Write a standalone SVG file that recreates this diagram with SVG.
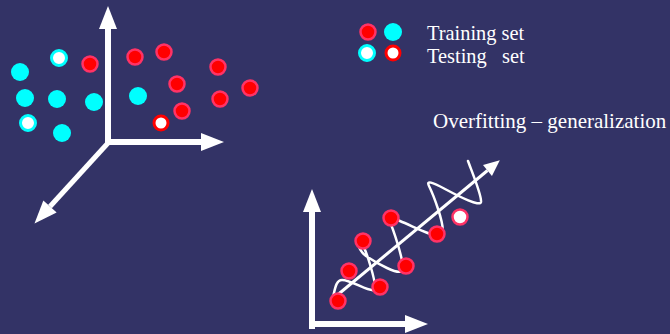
<svg xmlns="http://www.w3.org/2000/svg" width="670" height="334" viewBox="0 0 670 334">
<style>
.bg{fill:#333366}
.ax{stroke:#ffffff;stroke-width:6;fill:none}
.ax2{stroke:#ffffff;stroke-width:5;fill:none}
.fit{stroke:#ffffff;stroke-width:3;fill:none}
.wave{stroke:#ffffff;stroke-width:2.5;fill:none;stroke-linecap:round;stroke-linejoin:round}
.red{fill:#ff0000;stroke:#ff3366;stroke-width:2.5}
.cyan{fill:#00ffff}
.cyanT{fill:#ffffff;stroke:#00ffff;stroke-width:3}
.redT{fill:#ffffff;stroke:#ff0000;stroke-width:3}
.lbl{font-family:"Liberation Serif","Times New Roman",serif;font-size:20.4px;fill:#ffffff}
</style>
<defs>
<marker id="head" markerUnits="userSpaceOnUse" markerWidth="24" markerHeight="18" refX="0" refY="9" orient="auto" overflow="visible">
<path d="M0,0 L23,9 L0,18 Z" fill="#ffffff"/>
</marker>
<marker id="headS" markerUnits="userSpaceOnUse" markerWidth="16" markerHeight="14" refX="0" refY="7" orient="auto" overflow="visible">
<path d="M0,0 L16,7 L0,14 Z" fill="#ffffff"/>
</marker>
</defs>
<rect class="bg" x="0" y="0" width="670" height="334"/>

<g id="connectors">
<g id="axes-3d">
<line class="ax" x1="108" y1="145" x2="108" y2="29" marker-end="url(#head)"/>
<line class="ax" x1="105" y1="142" x2="201" y2="142" marker-end="url(#head)"/>
<line class="ax2" x1="108" y1="143" x2="50" y2="206.5" marker-end="url(#head)"/>
</g>
<g id="axes-2d">
<line class="ax" x1="312" y1="329" x2="312" y2="212" marker-end="url(#head)"/>
<line class="ax" x1="309" y1="324" x2="405" y2="324" marker-end="url(#head)"/>
</g>
<line id="fit-line" class="fit" x1="335" y1="297" x2="487.5" y2="170.5" marker-end="url(#headS)"/>
<path id="overfit-curve" class="wave" d="M333,297 C335,289 336,280 342,280 C352,280 368,292 374,290 C378,287 366,248 361,243 C356,238 358,250 366,256 C378,264 398,275 402,271 C406,265 392,226 389,220 C385,213 390,217 400,221 C415,227 438,240 442,234 C446,226 432,192 429,186 C426,180 432,182 445,189 C460,197 480,207 481,202 C482,196 472,172 468,161"/>
</g>

<g id="points-3d">
<circle class="cyan" cx="20" cy="72" r="9"/>
<circle class="cyan" cx="25" cy="98" r="9"/>
<circle class="cyan" cx="57" cy="99" r="9"/>
<circle class="cyan" cx="94" cy="102" r="9"/>
<circle class="cyan" cx="62" cy="133" r="9"/>
<circle class="cyan" cx="138" cy="96" r="9"/>
<circle class="cyanT" cx="59" cy="58" r="7.5"/>
<circle class="cyanT" cx="28" cy="123" r="7.5"/>
<circle class="red" cx="90" cy="64" r="7.5"/>
<circle class="red" cx="135" cy="57" r="7.5"/>
<circle class="red" cx="164" cy="52" r="7.5"/>
<circle class="red" cx="177" cy="84" r="7.5"/>
<circle class="red" cx="218" cy="67" r="7.5"/>
<circle class="red" cx="250" cy="88" r="7.5"/>
<circle class="red" cx="220" cy="99" r="7.5"/>
<circle class="red" cx="182" cy="111" r="7.5"/>
<circle class="redT" cx="161" cy="123" r="7"/>
</g>

<g id="legend">
<circle class="red" cx="368" cy="32" r="7.5"/>
<circle class="cyan" cx="393" cy="32" r="9"/>
<circle class="cyanT" cx="367" cy="53" r="7.5"/>
<circle class="redT" cx="393" cy="53" r="7"/>
<text class="lbl" x="427" y="40">Training set</text>
<text class="lbl" x="427" y="63" xml:space="preserve" style="white-space:pre">Testing   set</text>
</g>

<g id="title">
<text class="lbl" x="433" y="128" style="font-size:21px">Overfitting – generalization</text>
</g>

<g id="points-2d">
<circle class="red" cx="338" cy="301" r="7.5"/>
<circle class="red" cx="349" cy="271" r="7.5"/>
<circle class="red" cx="363" cy="241" r="7.5"/>
<circle class="red" cx="380" cy="287" r="7.5"/>
<circle class="red" cx="391" cy="218" r="7.5"/>
<circle class="red" cx="406" cy="266" r="7.5"/>
<circle class="red" cx="437" cy="234" r="7.5"/>
<circle cx="460" cy="217" r="7.5" fill="#ffffff" stroke="#ff3366" stroke-width="2.5"/>
</g>
</svg>
